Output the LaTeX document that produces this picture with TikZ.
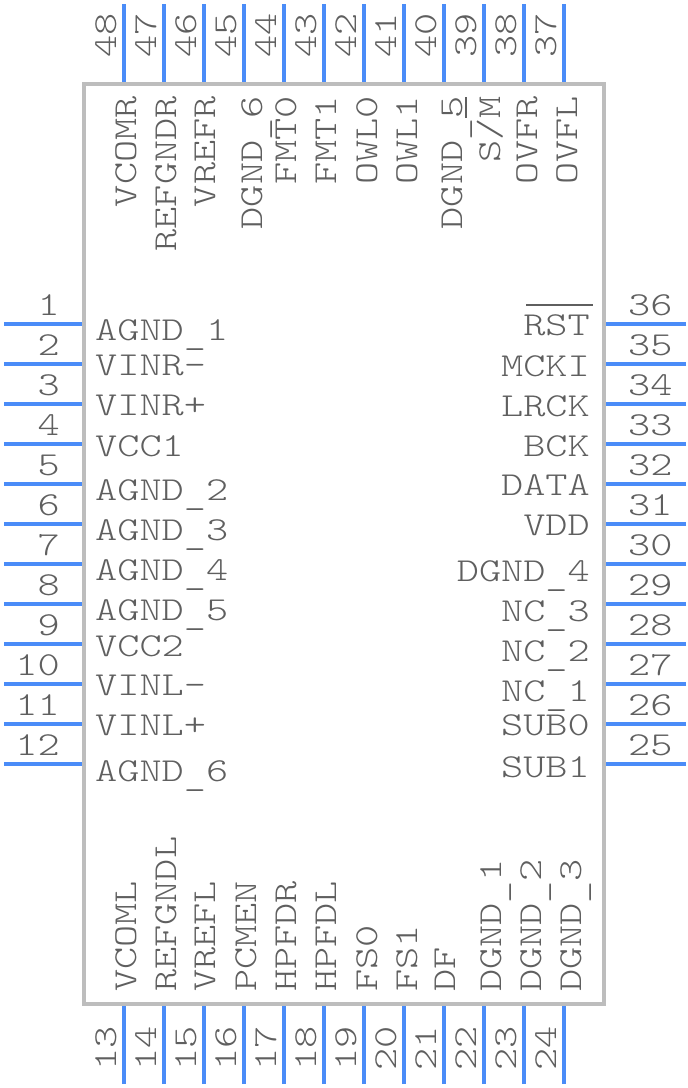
\documentclass[tikz,border=0pt]{standalone}
\usepackage{fontspec}
\usepackage{xcolor}
\usepackage{tikz}
\setmonofont[FakeStretch=1.26]{Latin Modern Mono Light}
\definecolor{pinblue}{HTML}{4A8CF8}
\definecolor{chipgray}{HTML}{BDBDBD}
\definecolor{textgray}{HTML}{5F5F5F}
\newcommand{\lowbar}{\raisebox{-4.5pt}{\_}}

\begin{document}
\begin{tikzpicture}[
  x=1pt, y=-1pt,
  chipbox/.style={draw=chipgray, line width=4pt, minimum width=520pt, minimum height=920pt, inner sep=0pt},
  pinline/.style={draw=pinblue, line width=4pt},
  bar/.style={draw=textgray, line width=1.1pt},
  txt/.style={text=textgray, inner sep=0pt, font=\ttfamily\fontsize{33.5}{33.5}\selectfont},
  lab/.style={txt, anchor=base west},
  rab/.style={txt, anchor=base east},
  upl/.style={txt, rotate=90, anchor=base west},
  upr/.style={txt, rotate=90, anchor=base east}
]
\useasboundingbox (0,0) rectangle (688,1088);
\node[chipbox] (chip) at (344,544) {};

% left pins
\coordinate (p1) at (4,324);
\coordinate (p2) at (4,364);
\coordinate (p3) at (4,404);
\coordinate (p4) at (4,444);
\coordinate (p5) at (4,484);
\coordinate (p6) at (4,524);
\coordinate (p7) at (4,564);
\coordinate (p8) at (4,604);
\coordinate (p9) at (4,644);
\coordinate (p10) at (4,684);
\coordinate (p11) at (4,724);
\coordinate (p12) at (4,764);
\draw[pinline] (p1) -- (p1 -| chip.west);
\draw[pinline] (p2) -- (p2 -| chip.west);
\draw[pinline] (p3) -- (p3 -| chip.west);
\draw[pinline] (p4) -- (p4 -| chip.west);
\draw[pinline] (p5) -- (p5 -| chip.west);
\draw[pinline] (p6) -- (p6 -| chip.west);
\draw[pinline] (p7) -- (p7 -| chip.west);
\draw[pinline] (p8) -- (p8 -| chip.west);
\draw[pinline] (p9) -- (p9 -| chip.west);
\draw[pinline] (p10) -- (p10 -| chip.west);
\draw[pinline] (p11) -- (p11 -| chip.west);
\draw[pinline] (p12) -- (p12 -| chip.west);

% bottom pins
\coordinate (p13) at (124,1084);
\coordinate (p14) at (164,1084);
\coordinate (p15) at (204,1084);
\coordinate (p16) at (244,1084);
\coordinate (p17) at (284,1084);
\coordinate (p18) at (324,1084);
\coordinate (p19) at (364,1084);
\coordinate (p20) at (404,1084);
\coordinate (p21) at (444,1084);
\coordinate (p22) at (484,1084);
\coordinate (p23) at (524,1084);
\coordinate (p24) at (564,1084);
\draw[pinline] (p13) -- (p13 |- chip.south);
\draw[pinline] (p14) -- (p14 |- chip.south);
\draw[pinline] (p15) -- (p15 |- chip.south);
\draw[pinline] (p16) -- (p16 |- chip.south);
\draw[pinline] (p17) -- (p17 |- chip.south);
\draw[pinline] (p18) -- (p18 |- chip.south);
\draw[pinline] (p19) -- (p19 |- chip.south);
\draw[pinline] (p20) -- (p20 |- chip.south);
\draw[pinline] (p21) -- (p21 |- chip.south);
\draw[pinline] (p22) -- (p22 |- chip.south);
\draw[pinline] (p23) -- (p23 |- chip.south);
\draw[pinline] (p24) -- (p24 |- chip.south);

% right pins
\coordinate (p25) at (686,764);
\coordinate (p26) at (686,724);
\coordinate (p27) at (686,684);
\coordinate (p28) at (686,644);
\coordinate (p29) at (686,604);
\coordinate (p30) at (686,564);
\coordinate (p31) at (686,524);
\coordinate (p32) at (686,484);
\coordinate (p33) at (686,444);
\coordinate (p34) at (686,404);
\coordinate (p35) at (686,364);
\coordinate (p36) at (686,324);
\draw[pinline] (p25) -- (p25 -| chip.east);
\draw[pinline] (p26) -- (p26 -| chip.east);
\draw[pinline] (p27) -- (p27 -| chip.east);
\draw[pinline] (p28) -- (p28 -| chip.east);
\draw[pinline] (p29) -- (p29 -| chip.east);
\draw[pinline] (p30) -- (p30 -| chip.east);
\draw[pinline] (p31) -- (p31 -| chip.east);
\draw[pinline] (p32) -- (p32 -| chip.east);
\draw[pinline] (p33) -- (p33 -| chip.east);
\draw[pinline] (p34) -- (p34 -| chip.east);
\draw[pinline] (p35) -- (p35 -| chip.east);
\draw[pinline] (p36) -- (p36 -| chip.east);

% top pins
\coordinate (p37) at (564,4);
\coordinate (p38) at (524,4);
\coordinate (p39) at (484,4);
\coordinate (p40) at (444,4);
\coordinate (p41) at (404,4);
\coordinate (p42) at (364,4);
\coordinate (p43) at (324,4);
\coordinate (p44) at (284,4);
\coordinate (p45) at (244,4);
\coordinate (p46) at (204,4);
\coordinate (p47) at (164,4);
\coordinate (p48) at (124,4);
\draw[pinline] (p37) -- (p37 |- chip.north);
\draw[pinline] (p38) -- (p38 |- chip.north);
\draw[pinline] (p39) -- (p39 |- chip.north);
\draw[pinline] (p40) -- (p40 |- chip.north);
\draw[pinline] (p41) -- (p41 |- chip.north);
\draw[pinline] (p42) -- (p42 |- chip.north);
\draw[pinline] (p43) -- (p43 |- chip.north);
\draw[pinline] (p44) -- (p44 |- chip.north);
\draw[pinline] (p45) -- (p45 |- chip.north);
\draw[pinline] (p46) -- (p46 |- chip.north);
\draw[pinline] (p47) -- (p47 |- chip.north);
\draw[pinline] (p48) -- (p48 |- chip.north);

% pin numbers
\node[rab] (n1) at (60,315) {1};
\node[rab] (n2) at (60,355) {2};
\node[rab] (n3) at (60,395) {3};
\node[rab] (n4) at (60,435) {4};
\node[rab] (n5) at (60,475) {5};
\node[rab] (n6) at (60,515) {6};
\node[rab] (n7) at (60,555) {7};
\node[rab] (n8) at (60,595) {8};
\node[rab] (n9) at (60,635) {9};
\node[rab] (n10) at (60,675) {10};
\node[rab] (n11) at (60,715) {11};
\node[rab] (n12) at (60,755) {12};

\node[upl] (n13) at (116,1071) {13};
\node[upl] (n14) at (156,1071) {14};
\node[upl] (n15) at (196,1071) {15};
\node[upl] (n16) at (236,1071) {16};
\node[upl] (n17) at (276,1071) {17};
\node[upl] (n18) at (316,1071) {18};
\node[upl] (n19) at (356,1071) {19};
\node[upl] (n20) at (396,1071) {20};
\node[upl] (n21) at (436,1071) {21};
\node[upl] (n22) at (476,1071) {22};
\node[upl] (n23) at (516,1071) {23};
\node[upl] (n24) at (556,1071) {24};

\node[lab] (n25) at (628,755) {25};
\node[lab] (n26) at (628,715) {26};
\node[lab] (n27) at (628,675) {27};
\node[lab] (n28) at (628,635) {28};
\node[lab] (n29) at (628,595) {29};
\node[lab] (n30) at (628,555) {30};
\node[lab] (n31) at (628,515) {31};
\node[lab] (n32) at (628,475) {32};
\node[lab] (n33) at (628,435) {33};
\node[lab] (n34) at (628,395) {34};
\node[lab] (n35) at (628,355) {35};
\node[lab] (n36) at (628,315) {36};

\node[upl] (n37) at (556,58) {37};
\node[upl] (n38) at (516,58) {38};
\node[upl] (n39) at (476,58) {39};
\node[upl] (n40) at (436,58) {40};
\node[upl] (n41) at (396,58) {41};
\node[upl] (n42) at (356,58) {42};
\node[upl] (n43) at (316,58) {43};
\node[upl] (n44) at (276,58) {44};
\node[upl] (n45) at (236,58) {45};
\node[upl] (n46) at (196,58) {46};
\node[upl] (n47) at (156,58) {47};
\node[upl] (n48) at (116,58) {48};

% pin names, left side
\node[lab] (agnda) at (95,340) {AGND\lowbar 1};
\node[lab] (vinrm) at (95,375) {VINR-};
\node[lab] (vinrp) at (95,415) {VINR+};
\node[lab] (vcca) at (95,456) {VCC1};
\node[lab] (agndb) at (95,500) {AGND\lowbar 2};
\node[lab] (agndc) at (95,540) {AGND\lowbar 3};
\node[lab] (agndd) at (95,580) {AGND\lowbar 4};
\node[lab] (agnde) at (95,620) {AGND\lowbar 5};
\node[lab] (vccb) at (95,656) {VCC2};
\node[lab] (vinlm) at (95,695) {VINL-};
\node[lab] (vinlp) at (95,735) {VINL+};
\node[lab] (agndf) at (95,781) {AGND\lowbar 6};

% pin names, right side
\node[rab] (rst) at (590,335) {RST};
\node[rab] (mcki) at (590,376) {MCKI};
\node[rab] (lrck) at (590,416) {LRCK};
\node[rab] (bck) at (590,456) {BCK};
\node[rab] (data) at (590,495) {DATA};
\node[rab] (vdd) at (590,535) {VDD};
\node[rab] (dgndd) at (590,581) {DGND\lowbar 4};
\node[rab] (ncc) at (590,621) {NC\lowbar 3};
\node[rab] (ncb) at (590,661) {NC\lowbar 2};
\node[rab] (nca) at (590,701) {NC\lowbar 1};
\node[rab] (subz) at (590,735) {SUB0};
\node[rab] (suba) at (590,777) {SUB1};

% pin names, bottom side
\node[upl] (vcoml) at (136,992) {VCOML};
\node[upl] (refgndl) at (176,992) {REFGNDL};
\node[upl] (vrefl) at (215,992) {VREFL};
\node[upl] (pcmen) at (256,992) {PCMEN};
\node[upl] (hpfdr) at (296,992) {HPFDR};
\node[upl] (hpfdl) at (336,992) {HPFDL};
\node[upl] (fsz) at (377,992) {FS0};
\node[upl] (fsa) at (417,992) {FS1};
\node[upl] (df) at (455,992) {DF};
\node[upl] (dgnda) at (501,992) {DGND\lowbar 1};
\node[upl] (dgndb) at (541,992) {DGND\lowbar 2};
\node[upl] (dgndc) at (581,992) {DGND\lowbar 3};

% pin names, top side
\node[upr] (ovfl) at (577,96) {OVFL};
\node[upr] (ovfr) at (537,96) {OVFR};
\node[upr] (sm) at (500,96) {S/M};
\node[upr] (dgnde) at (462,96) {DGND\lowbar 5};
\node[upr] (owla) at (417,96) {OWL1};
\node[upr] (owlz) at (377,96) {OWL0};
\node[upr] (fmta) at (336,96) {FMT1};
\node[upr] (fmtz) at (296,96) {FMT0};
\node[upr] (dgndf) at (262,96) {DGND\lowbar 6};
\node[upr] (vrefr) at (215,96) {VREFR};
\node[upr] (refgndr) at (176,96) {REFGNDR};
\node[upr] (vcomr) at (136,96) {VCOMR};

% overbars
\draw[bar] (526,305) -- (593,305);
\draw[bar] (466,97) -- (466,118);
\end{tikzpicture}
\end{document}
